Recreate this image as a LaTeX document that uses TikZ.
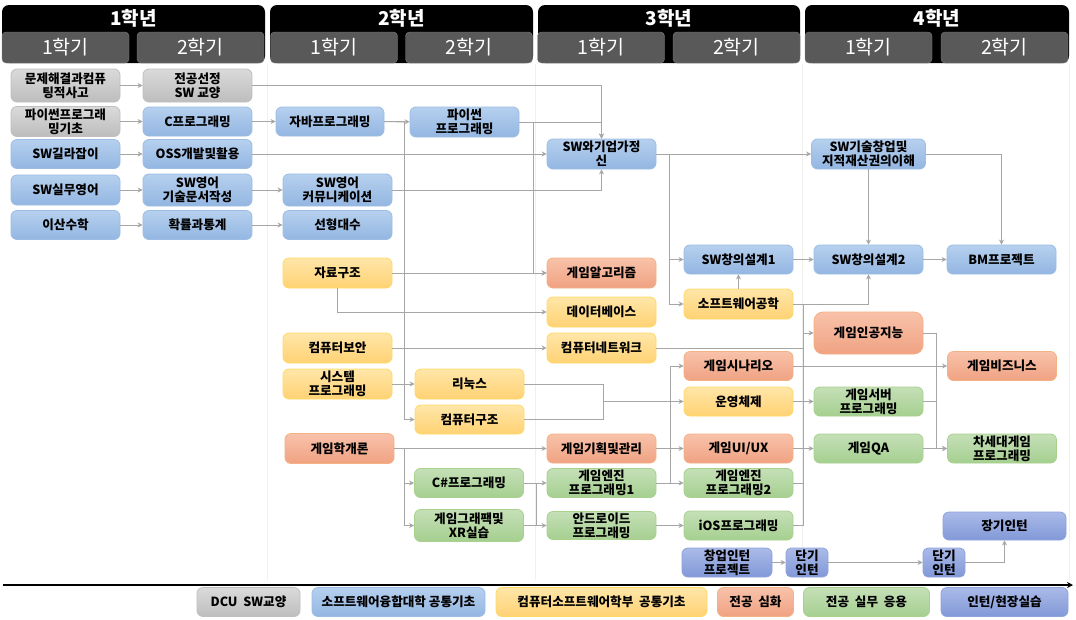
\documentclass[tikz,border=0pt]{standalone}
\usepackage{fontspec}
\setmainfont{Noto Sans CJK KR}
\usetikzlibrary{arrows.meta}
\definecolor{lgtop}{HTML}{DADADA}\definecolor{lgbot}{HTML}{BDBDBD}\definecolor{lgline}{HTML}{BFBFBF}
\definecolor{cltop}{HTML}{B6D0EE}\definecolor{clbot}{HTML}{93B6E2}\definecolor{clline}{HTML}{9CBDE4}
\definecolor{dptop}{HTML}{FFE6A8}\definecolor{dpbot}{HTML}{FFD274}\definecolor{dpline}{HTML}{FFD966}
\definecolor{mjtop}{HTML}{F8C2AA}\definecolor{mjbot}{HTML}{F0A282}\definecolor{mjline}{HTML}{F4B183}
\definecolor{prtop}{HTML}{C5E0B7}\definecolor{prbot}{HTML}{A5CF90}\definecolor{prline}{HTML}{A9D18E}
\definecolor{intop}{HTML}{AABAE8}\definecolor{inbot}{HTML}{8299D8}\definecolor{inline}{HTML}{8FA3DC}
\definecolor{termgray}{HTML}{595959}\definecolor{linkgray}{HTML}{A6A6A6}

\begin{document}
\begin{tikzpicture}[x=1pt, y=-1pt, >={Stealth[length=5pt,width=5pt]},
    course/.style={rounded corners=6pt, line width=0.8pt, minimum width=109pt, minimum height=29pt,
      inner sep=0pt, align=center, font=\fontsize{12.6}{14}\selectfont\bfseries},
    liberal/.style={course, top color=lgtop, bottom color=lgbot, draw=lgline},
    college/.style={course, top color=cltop, bottom color=clbot, draw=clline},
    dept/.style={course, top color=dptop, bottom color=dpbot, draw=dpline},
    major/.style={course, top color=mjtop, bottom color=mjbot, draw=mjline},
    practice/.style={course, top color=prtop, bottom color=prbot, draw=prline},
    intern/.style={course, top color=intop, bottom color=inbot, draw=inline},
    legend/.style={minimum height=22pt, rounded corners=4pt, font=\fontsize{12.3}{13}\selectfont\bfseries},
    year/.style={text=white, font=\fontsize{19}{20}\selectfont\bfseries},
    term/.style={fill=termgray, draw=gray, rounded corners=4pt, minimum width=127pt, minimum height=31pt,
      text=white, font=\fontsize{19.5}{20}\selectfont},
    link/.style={draw=linkgray, line width=1pt},
    sep/.style={draw=gray!12, line width=0.6pt}]
  \fill[white] (0,0) rectangle (1076,619);
  \useasboundingbox (0,0) rectangle (1076,619);
  % column rules
  \draw[sep] (267.5,64) -- (267.5,580);
  \draw[sep] (535.5,64) -- (535.5,580);
  \draw[sep] (802.5,64) -- (802.5,580);
  \draw[sep] (1069,64) -- (1069,580);
  % years and terms
  \fill[rounded corners=7pt] (2,5) rectangle (265,63);
  \fill[rounded corners=7pt] (270,5) rectangle (533,63);
  \fill[rounded corners=7pt] (538,5) rectangle (800,63);
  \fill[rounded corners=7pt] (805,5) rectangle (1069,63);
  \node (y1) [year] at (133.5,18) {1학년};
  \node (y2) [year] at (401.5,18) {2학년};
  \node (y3) [year] at (669,18) {3학년};
  \node (y4) [year] at (937,18) {4학년};
  \node (t11) [term] at (65.5,47.5) {1학기};
  \node (t12) [term] at (200.5,47.5) {2학기};
  \node (t21) [term] at (334,47.5) {1학기};
  \node (t22) [term] at (469,47.5) {2학기};
  \node (t31) [term] at (601,47.5) {1학기};
  \node (t32) [term] at (736.5,47.5) {2학기};
  \node (t41) [term] at (868.5,47.5) {1학기};
  \node (t42) [term] at (1004.5,47.5) {2학기};

  % 1st year
  \node (think) [liberal, minimum height=33pt] at (65.5,85.5) {문제해결과컴퓨\\팅적사고};
  \node (pybasic) [liberal, minimum height=30pt] at (65.5,121.5) {파이썬프로그래\\밍기초};
  \node (guide) [college] at (65.5,154) {SW길라잡이};
  \node (eng) [college, minimum height=30pt] at (65.5,190) {SW실무영어};
  \node (discrete) [college] at (65.5,225) {이산수학};
  \node (choice) [liberal, minimum height=33pt] at (197.5,85.5) {전공선정\\SW 교양};
  \node (cprog) [college] at (197.5,121.5) {C프로그래밍};
  \node (oss) [college] at (197.5,154) {OSS개발및활용};
  \node (engdoc) [college, minimum height=32pt] at (197.5,190) {SW영어\\기술문서작성};
  \node (prob) [college] at (197.5,225) {확률과통계};
  % 2nd year
  \node (java) [college, minimum width=108pt] at (330,121.5) {자바프로그래밍};
  \node (engcom) [college, minimum height=32pt] at (337.5,190) {SW영어\\커뮤니케이션};
  \node (linalg) [college] at (337.5,225) {선형대수};
  \node (ds) [dept, minimum height=30pt] at (337.5,273) {자료구조};
  \node (sec) [dept, minimum height=30pt] at (337.5,348) {컴퓨터보안};
  \node (sysp) [dept, minimum height=30pt] at (337.5,384) {시스템\\프로그래밍};
  \node (gintro) [major, minimum height=30pt] at (339.5,448.5) {게임학개론};
  \node (python) [college, minimum height=30pt] at (464.5,122) {파이썬\\프로그래밍};
  \node (linux) [dept, minimum height=30pt] at (469.5,384) {리눅스};
  \node (comarch) [dept] at (469.5,419.5) {컴퓨터구조};
  \node (csharp) [practice] at (469,483) {C\#프로그래밍};
  \node (gfx) [practice, minimum height=32pt] at (469,525.5) {게임그래팩및\\XR실습};
  % 3rd year
  \node (swe) [college, minimum height=30pt] at (601.5,154) {SW와기업가정\\신};
  \node (galgo) [major, minimum height=30pt] at (601.5,273) {게임알고리즘};
  \node (db) [dept, minimum height=30pt] at (601.5,312) {데이터베이스};
  \node (net) [dept, minimum height=30pt] at (601.5,348) {컴퓨터네트워크};
  \node (gplan) [major] at (601.5,448.5) {게임기획및관리};
  \node (geng1) [practice] at (601.5,483) {게임엔진\\프로그래밍1};
  \node (android) [practice, minimum height=28pt] at (601.5,525.5) {안드로이드\\프로그래밍};
  \node (cd1) [college] at (738.5,259.5) {SW창의설계1};
  \node (se) [dept, minimum height=30pt] at (738.5,304) {소프트웨어공학};
  \node (gscen) [major] at (738.5,366) {게임시나리오};
  \node (os) [dept] at (738.5,401.5) {운영체제};
  \node (gui) [major] at (738.5,448.5) {게임UI/UX};
  \node (geng2) [practice] at (738.5,483) {게임엔진\\프로그래밍2};
  \node (ios) [practice] at (738.5,525.5) {iOS프로그래밍};
  \node (sint) [intern, minimum width=90pt] at (727,562.5) {창업인턴\\프로젝트};
  \node (short1) [intern, minimum width=42pt, rounded corners=5pt] at (807,562.5) {단기\\인턴};
  % 4th year
  \node (startup) [college, minimum width=114pt, minimum height=30pt] at (868.5,154) {SW기술창업및\\지적재산권의이해};
  \node (cd2) [college] at (868.5,259.5) {SW창의설계2};
  \node (gai) [major, minimum height=42pt, rounded corners=9pt] at (868.5,333) {게임인공지능};
  \node (gserver) [practice] at (868.5,401.5) {게임서버\\프로그래밍};
  \node (gqa) [practice] at (868.5,448.5) {게임QA};
  \node (short2) [intern, minimum width=42pt, rounded corners=5pt] at (944,562.5) {단기\\인턴};
  \node (bm) [college] at (1001.5,259.5) {BM프로젝트};
  \node (gbiz) [major] at (1002,366) {게임비즈니스};
  \node (next) [practice] at (1002,448.5) {차세대게임\\프로그래밍};
  \node (long) [intern, minimum width=123pt, minimum height=28pt] at (1004.5,526) {장기인턴};

  % bus points
  \coordinate (b1) at (404,121.5);
  \coordinate (b2) at (669,154);
  \coordinate (b3) at (533,122);
  \coordinate (b4) at (603,401.5);
  \coordinate (b5) at (404,448.5);
  \coordinate (b6a) at (536,483);
  \coordinate (b6b) at (536,525.5);
  \coordinate (b7) at (670,483);
  \coordinate (b8t) at (803,304);
  \coordinate (b8b) at (803,525.5);
  \coordinate (b9) at (936,448.5);

  % first and second year lines
  \draw [link,->] (think) -- (choice);
  \draw [link,->] (choice.east) -| (swe.north);
  \draw [link,->] (pybasic) -- (cprog);
  \draw [link,->] (cprog) -- (java);
  \draw [link,->] (java) -- (python);
  \draw [link,->] (python.east) -| (swe.north);
  \draw [link,->] (java.east) -- (b1) |- (comarch.west);
  \draw [link,->] (guide) -- (oss);
  \draw [link,->] (oss.east) -- (swe.west);
  \draw [link,->] (eng) -- (engdoc);
  \draw [link,->] (engdoc) -- (engcom);
  \draw [link,->] (engcom.east) -| (swe.south);
  \draw [link,->] (discrete) -- (prob);
  \draw [link,->] (prob) -- (linalg);
  \draw [link,->] (b3) |- (galgo.west);
  \draw [link,->] (ds) -- (galgo);
  \draw [link,->] (ds.south) |- (db.west);
  \draw [link,->] (sec) -- (net);
  \draw [link,->] (sysp) -- (linux);
  \draw [link] (linux.east) -| (b4);
  \draw [link] (comarch.east) -| (b4);
  \draw [link,->] (b4) -- (os.west);
  \draw [link,->] (gintro) -- (gplan);
  \draw [link,->] (b5) |- (csharp.west);
  \draw [link,->] (b5) |- (gfx.west);
  \draw [link,->] (csharp) -- (geng1);
  \draw [link,->] (gfx) -- (android);
  \draw [link] (b6a) -- (b6b);
  % third and fourth year lines
  \draw [link,->] (swe.east) -- (startup.west);
  \draw [link,->] (b2) |- (cd1.west);
  \draw [link,->] (b2) |- (se.west);
  \draw [link,->] (se) -- (cd1);
  \draw [link,->] (cd1) -- (cd2);
  \draw [link,->] (cd2) -- (bm);
  \draw [link,->] (se.east) -| (cd2.south);
  \draw [link,->] (startup) -- (cd2);
  \draw [link,->] (startup.east) -| (bm.north);
  \draw [link,->] (gplan) -- (gui);
  \draw [link,->] (geng1) -- (geng2);
  \draw [link,->] (android) -- (ios);
  \draw [link,->] (b7) |- (gscen.west);
  \draw [link,->] (gscen) -- (gbiz);
  \draw [link,->] (os) -- (gserver);
  \draw [link,->] (gui) -- (gqa);
  \draw [link] (b8t) -- (b8b);
  \draw [link] (net.east) -- (net.east -| b8t);
  \draw [link] (geng2.east) -- (geng2.east -| b8t);
  \draw [link] (ios.east) -- (b8b);
  \draw [link,->] (b8t |- gai.west) -- (gai.west);
  \draw [link,->] (gai.east) -| (b9) -- (next.west);
  \draw [link] (gserver.east) -| (b9);
  \draw [link,->] (gqa) -- (next);
  \draw [link,->] (sint) -- (short1);
  \draw [link,->] (short1) -- (short2);
  \draw [link,->] (short2.east) -| (long.south);

  % time axis and legend
  \coordinate (ax0) at (3,585);
  \coordinate (ax1) at (1073,585);
  \draw [line width=1.8pt,-{Stealth[length=6pt,width=6pt]}] (ax0) -- (ax1);
  \node (k1) [legend, liberal, minimum width=103pt] at (248.5,602) {DCU\ \ SW교양};
  \node (k2) [legend, college, minimum width=173pt] at (398.5,602) {소프트웨어융합대학 공통기초};
  \node (k3) [legend, dept, minimum width=211pt] at (601.5,602) {컴퓨터소프트웨어학부\ \ 공통기초};
  \node (k4) [legend, major, minimum width=76pt] at (755.5,602) {전공\ \ 심화};
  \node (k5) [legend, practice, minimum width=126pt] at (866.5,602) {전공\ \ 실무\ \ 응용};
  \node (k6) [legend, intern, minimum width=127pt] at (1004.5,602) {인턴/현장실습};
\end{tikzpicture}
\end{document}
